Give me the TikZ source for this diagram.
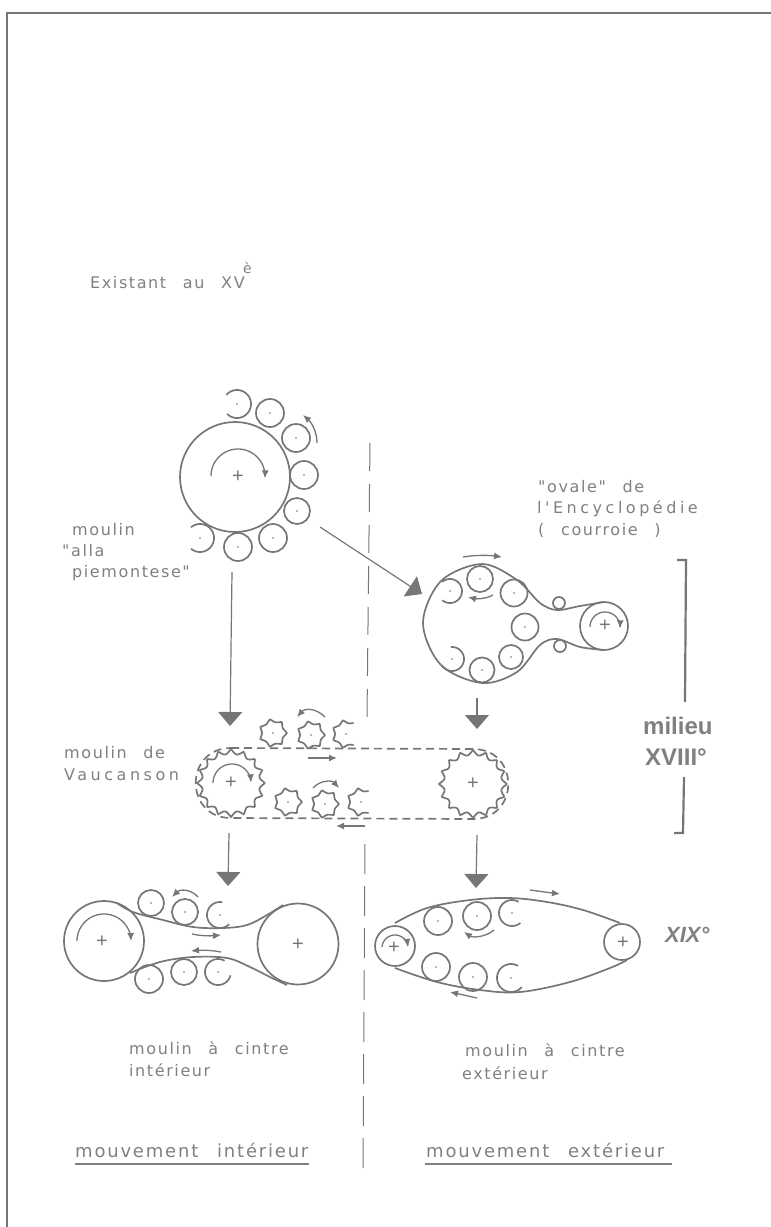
\documentclass[tikz,border=0pt]{standalone}
\usepackage{fontspec}
\usetikzlibrary{arrows.meta}
\newfontfamily\labelfont[LetterSpace=10,WordSpace=2.5]{DejaVu Sans}
\newfontfamily\widefont[LetterSpace=22,WordSpace=2.5]{DejaVu Sans}
\newfontfamily\handfont{Liberation Sans}
\definecolor{cInk}{HTML}{767676}
\definecolor{cLabel}{HTML}{808080}

% plain roller with its centre dot: x, y, radius
\newcommand{\rollerat}[3]{%
  \draw[wheel] (#1,#2) circle [radius=#3];
  \fill[cInk] (#1,#2) circle [radius=0.9];
}
% roller left open on one side: x, y, radius, start angle, end angle
\newcommand{\openroller}[5]{%
  \draw[wheel] plot[domain=#4:#5, samples=40] ({#1+#3*cos(\x)}, {#2+#3*sin(\x)});
  \fill[cInk] (#1,#2) circle [radius=0.9];
}
% toothed wheel: x, y, tip radius, depth, teeth, start angle, end angle
\newcommand{\gearat}[7]{%
  \draw[wheel] plot[domain=#6:#7, samples=181]
    ({#1+(#3-#4*abs(sin(#5*\x/2)))*cos(\x)}, {#2+(#3-#4*abs(sin(#5*\x/2)))*sin(\x)});
}
% rotation arrow round a centre: x, y, radius, start angle, end angle
\newcommand{\turnarrow}[5]{%
  \draw[thin arrow] plot[domain=#4:#5, samples=40] ({#1+#3*cos(\x)}, {#2+#3*sin(\x)});
}

\begin{document}
\begin{tikzpicture}[
  x=1pt, y=-1pt,
  wheel/.style={draw=cInk, line width=1.7pt},
  belt/.style={draw=cInk, line width=1.7pt},
  thin arrow/.style={draw=cInk, line width=1.3pt, -{Latex[length=8pt,width=7pt]}},
  big arrow/.style={draw=cInk, line width=1.2pt, -{Triangle[length=14pt,width=24pt]}},
  centre/.style={font=\handfont\fontsize{20}{20}\selectfont, text=cInk, inner sep=0pt},
  lbl/.style={font=\labelfont\fontsize{16}{18}\selectfont, text=cLabel, anchor=base west, inner sep=0pt},
  hand/.style={font=\handfont\bfseries\fontsize{24}{24}\selectfont, text=cLabel, anchor=base west, inner sep=0pt},
]
\useasboundingbox (0,0) rectangle (771,1227);

% ---------- frame and middle line ----------
\coordinate (frameTop) at (771,13);
\coordinate (frameCorner) at (7,13);
\coordinate (frameFoot) at (7,1227);
\draw[cInk, line width=1.4pt] (frameTop) -- (frameCorner) -- (frameFoot);
\coordinate (midTopA) at (370,443);
\coordinate (midTopB) at (367,717);
\coordinate (midLowA) at (365,844);
\coordinate (midLowB) at (363,1175);
\draw[cInk, line width=1pt, dash pattern=on 28pt off 13pt] (midTopA) -- (midTopB);
\draw[cInk, line width=1pt, dash pattern=on 30pt off 12pt] (midLowA) -- (midLowB);

% ---------- moulin alla piemontese ----------
\node[circle, wheel, minimum size=110pt, inner sep=0pt] (pieWheel) at (235,477) {};
\node[centre] (piePlus) at (238,477) {+};
\turnarrow{238}{476}{27}{180}{365}
\foreach \cx/\cy/\r in {270/413/14, 296/438/14, 304/475/14, 297/511/13, 273/538/14, 238/547/14} {
  \rollerat{\cx}{\cy}{\r}
}
\openroller{237}{404}{14}{-140}{135}
\openroller{200}{538}{14}{-130}{130}
\draw[thin arrow] (317,443) .. controls (317,431) and (311,422) .. (303,415);

% ---------- ovale ----------
\draw[belt] plot[smooth, tension=0.55] coordinates {(604,602) (580,606) (557,610) (540,603) (517,580)
  (482,564) (441,581) (423,623) (441,665) (482,683) (517,672) (540,645) (557,639) (580,647) (604,650)};
\node[circle, wheel, minimum size=48pt, inner sep=0pt] (ovaWheel) at (604,626) {};
\node[centre] (ovaPlus) at (605,626) {+};
\turnarrow{605}{627}{15}{180}{365}
\foreach \cx/\cy/\r in {480/579/13, 514/593/13.5, 525/627/13.5, 511/657/12, 482/670/12.5} {
  \rollerat{\cx}{\cy}{\r}
}
\openroller{450}{591}{12}{-130}{130}
\openroller{452}{659}{12}{-95}{150}
\draw[wheel] (559,603) circle [radius=6];
\draw[wheel] (560,646) circle [radius=6];
\draw[thin arrow] (463,557) .. controls (475,555) and (488,555) .. (502,557);
\draw[thin arrow] (493,595) .. controls (486,599) and (476,599) .. (468,597);

% ---------- moulin de Vaucanson ----------
\draw[belt, dash pattern=on 8pt off 5pt] (231,748) -- (473,749)
  .. controls (520,749) and (520,819) .. (473,819) -- (231,818)
  .. controls (184,818) and (184,748) .. (231,748);
\gearat{231}{783}{34}{5}{16}{0}{360}
\gearat{473}{784}{34}{5}{16}{0}{360}
\node[centre] (vauPlusL) at (231,783) {+};
\node[centre] (vauPlusR) at (473,784) {+};
\turnarrow{232}{783}{19}{180}{358}
\gearat{273}{733}{14}{3}{7}{0}{360}
\gearat{311}{735}{14}{3}{7}{0}{360}
\gearat{346}{734}{14}{3}{7}{55}{305}
\gearat{288}{802}{14}{3}{7}{0}{360}
\gearat{325}{804}{14}{3}{7}{0}{360}
\gearat{361}{802}{14}{3}{7}{55}{305}
\foreach \cx/\cy in {273/733, 311/735, 346/734, 288/802, 325/804, 361/802} {
  \fill[cInk] (\cx,\cy) circle [radius=0.9];
}
\draw[thin arrow] (325,717) .. controls (316,708) and (305,708) .. (297,717);
\draw[thin arrow] (313,788) .. controls (320,780) and (332,780) .. (339,788);
\draw[thin arrow] (308,758) -- (337,758);
\draw[thin arrow] (365,826) -- (336,826);

% ---------- moulin a cintre interieur ----------
\node[circle, wheel, minimum size=80pt, inner sep=0pt] (intWheelL) at (104,941) {};
\node[circle, wheel, minimum size=81pt, inner sep=0pt] (intWheelR) at (298,944) {};
\node[centre] (intPlusL) at (102,942) {+};
\node[centre] (intPlusR) at (298,945) {+};
\draw[belt] plot[smooth, tension=0.6] coordinates {(117,903) (133,912) (163,920) (193,927) (223,928) (247,925) (267,915) (283,905)};
\draw[belt] plot[smooth, tension=0.6] coordinates {(130,973) (160,962) (193,957) (227,958) (250,967) (270,977) (287,985)};
\turnarrow{104}{941}{27}{180}{360}
\foreach \cx/\cy/\r in {151/903/13, 185/912/13, 149/979/14, 184/972/13} {
  \rollerat{\cx}{\cy}{\r}
}
\openroller{220}{915}{13}{45}{280}
\openroller{218}{972}{13}{15}{300}
\draw[thin arrow] (198,897) .. controls (191,889) and (180,889) .. (172,897);
\draw[thin arrow] (192,934) .. controls (201,936) and (211,936) .. (221,935);
\draw[thin arrow] (221,952) .. controls (211,950) and (201,950) .. (191,951);

% ---------- moulin a cintre exterieur ----------
\node[circle, wheel, minimum size=40pt, inner sep=0pt] (extWheelL) at (395,946) {};
\node[circle, wheel, minimum size=36pt, inner sep=0pt] (extWheelR) at (622,942) {};
\node[centre] (extPlusL) at (394,948) {+};
\node[centre] (extPlusR) at (623,943) {+};
\draw[belt] plot[smooth, tension=0.6] coordinates {(395,923) (427,908) (470,900) (510,898) (547,902) (583,910) (620,923)};
\draw[belt] plot[smooth, tension=0.6] coordinates {(395,968) (437,982) (480,990) (520,992) (570,982) (610,968) (627,960)};
\turnarrow{395}{948}{13}{185}{355}
\foreach \cx/\cy/\r in {438/921/14, 477/916/14, 436/967/14, 473/977/14} {
  \rollerat{\cx}{\cy}{\r}
}
\openroller{512}{913}{13}{50}{300}
\openroller{511}{978}{14}{40}{300}
\draw[thin arrow] (530,890) -- (560,894);
\draw[thin arrow] (477,998) -- (450,992);
\draw[thin arrow] (494,930) .. controls (486,937) and (473,938) .. (464,932);

% ---------- arrows between the mills ----------
\coordinate (pieFoot) at (232,572);
\coordinate (vauTopL) at (230,726);
\coordinate (pieSide) at (320,527);
\coordinate (ovaSide) at (422,594);
\coordinate (ovaFoot) at (477,698);
\coordinate (vauTopR) at (477,729);
\coordinate (vauFootL) at (229,833);
\coordinate (intTop) at (228,886);
\coordinate (vauFootR) at (477,835);
\coordinate (extTop) at (476,888);
\draw[big arrow] (pieFoot) -- (vauTopL);
\draw[big arrow] (pieSide) -- (ovaSide);
\draw[big arrow] (ovaFoot) -- (vauTopR);
\draw[big arrow] (vauFootL) -- (intTop);
\draw[big arrow] (vauFootR) -- (extTop);

% ---------- bracket ----------
\coordinate (brkTop) at (677,560);
\coordinate (brkBend) at (686,560);
\coordinate (brkEnd) at (685,702);
\coordinate (brkStart) at (684,777);
\coordinate (brkLow) at (683,833);
\coordinate (brkFoot) at (674,833);
\draw[cInk, line width=2.2pt] (brkTop) -- (brkBend) -- (brkEnd);
\draw[cInk, line width=2.2pt] (brkStart) -- (brkLow) -- (brkFoot);

% ---------- labels ----------
\node[lbl] (lblExist) at (90,288) {Existant au XV};
\node[lbl, font=\labelfont\fontsize{14}{16}\selectfont] (lblExistE) at (243,273) {è};
\node[lbl] (lblPieA) at (72,535) {moulin};
\node[lbl] (lblPieB) at (62,556) {"alla};
\node[lbl] (lblPieC) at (72,577) {piemontese"};
\node[lbl] (lblOvaA) at (538,492) {"ovale" de};
\node[lbl, font=\widefont\fontsize{16}{18}\selectfont] (lblOvaB) at (537,513) {l'Encyclopédie};
\node[lbl] (lblOvaC) at (538,535) {( courroie )};
\node[lbl] (lblVauA) at (64,758) {moulin de};
\node[lbl, font=\widefont\fontsize{16}{18}\selectfont] (lblVauB) at (64,780) {Vaucanson};
\node[lbl] (lblIntA) at (129,1054) {moulin à cintre};
\node[lbl] (lblIntB) at (129,1076) {intérieur};
\node[lbl] (lblExtA) at (465,1056) {moulin à cintre};
\node[lbl] (lblExtB) at (462,1079) {extérieur};
\node[lbl, font=\labelfont\fontsize{18}{20}\selectfont] (lblMvtI) at (75,1157) {mouvement intérieur};
\node[lbl, font=\labelfont\fontsize{18}{20}\selectfont] (lblMvtE) at (426,1157) {mouvement extérieur};
\coordinate (ulIntL) at (75,1164);
\coordinate (ulIntR) at (309,1164);
\coordinate (ulExtL) at (425,1164);
\coordinate (ulExtR) at (672,1164);
\draw[cLabel, line width=1.2pt] (ulIntL) -- (ulIntR);
\draw[cLabel, line width=1.2pt] (ulExtL) -- (ulExtR);
\node[hand] (lblMilieu) at (643,734) {milieu};
\node[hand] (lblXviii) at (645,765) {XVIII°};
\node[hand, font=\handfont\bfseries\itshape\fontsize{22}{22}\selectfont] (lblXix) at (665,942) {XIX°};

\end{tikzpicture}
\end{document}
